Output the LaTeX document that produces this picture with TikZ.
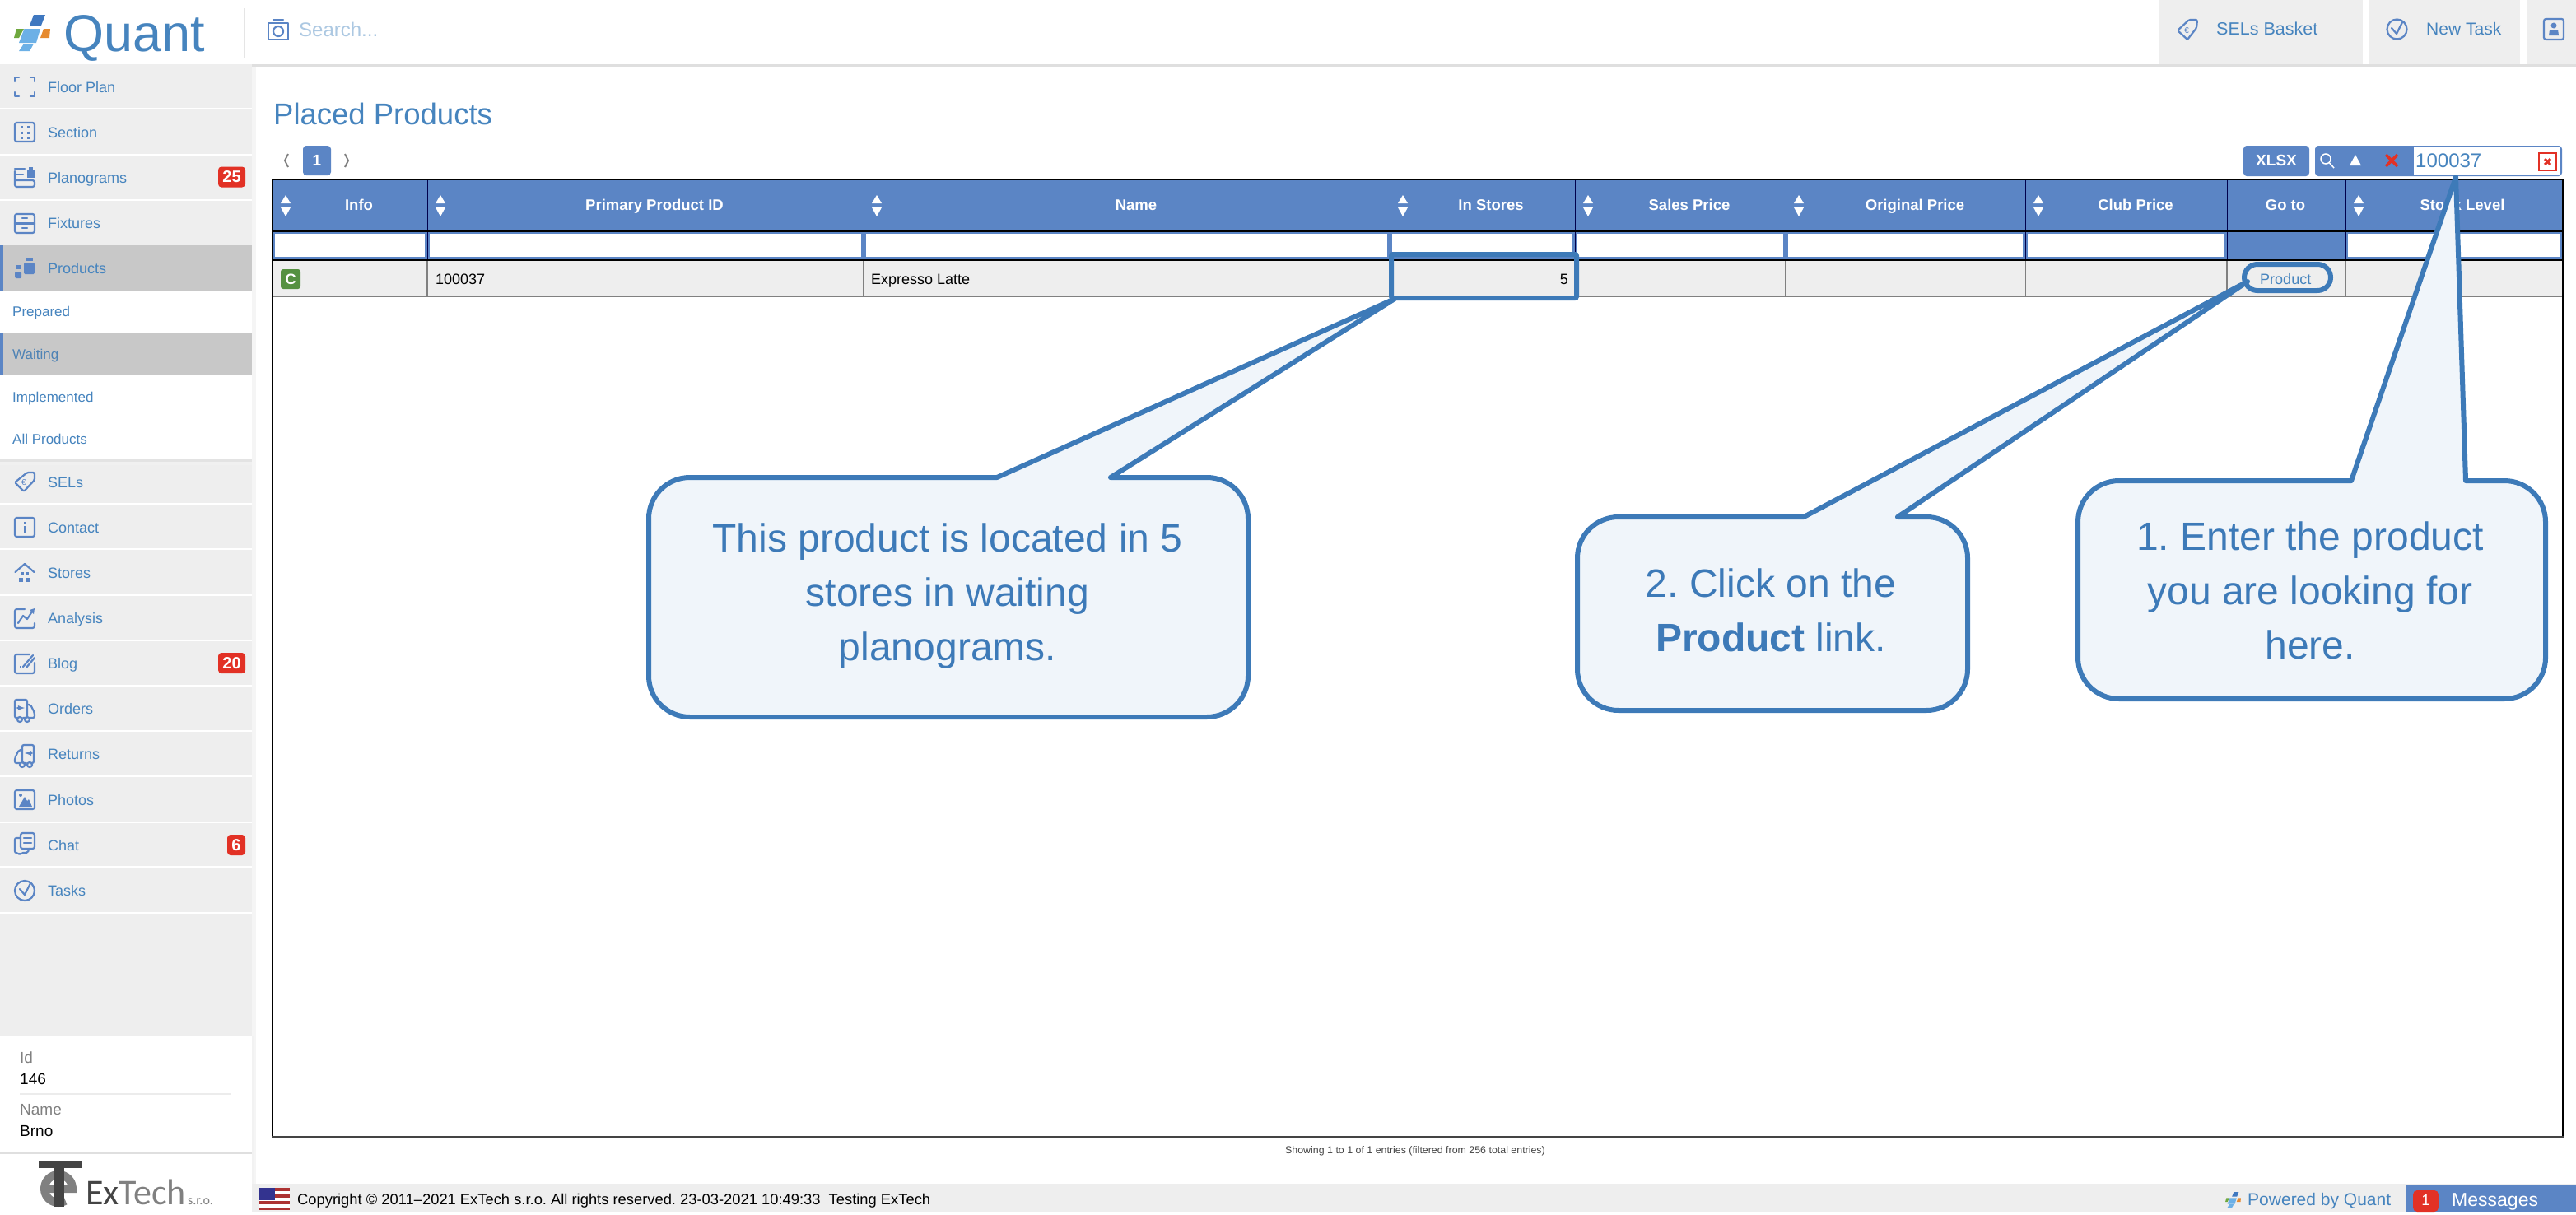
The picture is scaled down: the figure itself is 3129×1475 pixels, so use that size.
\documentclass[tikz,border=0pt]{standalone}
\usepackage{fontspec}
\setmainfont{Liberation Sans}
\newfontfamily\carlitofont{Carlito}
\usetikzlibrary{positioning}
\AtBeginDocument{\frenchspacing}
\definecolor{headblue}{RGB}{91,133,197}
\definecolor{linkblue}{RGB}{70,132,190}
\definecolor{noteblue}{RGB}{61,122,184}
\definecolor{notefill}{RGB}{240,245,250}
\definecolor{panelgrey}{RGB}{238,238,238}
\definecolor{activegrey}{RGB}{200,200,200}
\definecolor{badgered}{RGB}{226,49,37}
\definecolor{darkgrey}{RGB}{68,68,68}
\definecolor{logoblue}{RGB}{63,120,192}
\definecolor{logosky}{RGB}{108,176,230}
\definecolor{logogreen}{RGB}{111,168,62}
\definecolor{logoorange}{RGB}{230,138,46}
\tikzset{
  navlabel/.style={anchor=west,inner sep=0pt,text=linkblue,text height=13pt,text depth=0pt,font=\fontsize{18}{22}\selectfont},
  sublabel/.style={anchor=west,inner sep=0pt,text=linkblue,text height=12.3pt,text depth=0pt,font=\fontsize{17}{21}\selectfont},
  icon/.style={draw=headblue,line width=2.2pt,line cap=round,line join=round},
  badge/.style={fill=badgered,rounded corners=4pt,text=white,inner sep=0pt,minimum height=25pt,font=\bfseries\fontsize{20}{24}\selectfont},
  headcell/.style={text=white,inner sep=0pt,text height=13.3pt,text depth=0pt,font=\bfseries\fontsize{18.5}{22}\selectfont},
  datacell/.style={anchor=west,inner sep=0pt,text height=13pt,text depth=0pt,font=\fontsize{18}{22}\selectfont},
  infolabel/.style={anchor=west,inner sep=0pt,text=gray,text height=13.7pt,text depth=0pt,font=\fontsize{19}{23}\selectfont},
  infovalue/.style={anchor=west,inner sep=0pt,text height=13.7pt,text depth=0pt,font=\fontsize{19}{23}\selectfont},
  calloutbox/.style={draw=noteblue,fill=notefill,line width=6pt,line join=round},
  callouttext/.style={align=center,inner sep=0pt,text=noteblue,font=\fontsize{48}{66}\selectfont},
  markbox/.style={draw=noteblue,line width=6pt},
  sortarrows/.pic={
    \fill[white] (-6,-2) -- (6,-2) -- (0,-12) -- cycle;
    \fill[white] (-6,3) -- (6,3) -- (0,14) -- cycle;
  },
  quantlogo/.pic={
    \fill[logoblue] (24,0) -- (38,0) -- (33,13) -- (19,13) -- cycle;
    \fill[logogreen] (3,17) -- (12,17) -- (6,28) -- (0,28) -- cycle;
    \fill[logosky] (12.5,17) -- (32,17) -- (27,34) -- (6,34) -- cycle;
    \fill[logoorange] (36,17) -- (44,17) -- (43,28) -- (32,28) -- cycle;
    \fill[logosky] (12,35) -- (24,35) -- (19,44) -- (6,44) -- cycle;
  }
}
\begin{document}
\begin{tikzpicture}[x=1pt,y=-1pt]
	\useasboundingbox (0,0) rectangle (3129,1475);
	\fill[white] (0,0) rectangle (3129,1475);
	% top bar
	\fill[gray!25] (0,78) rectangle (3129,81);
	\fill[gray!10] (0,81) rectangle (3129,82);
	\draw[gray!20,line width=1.5pt] (297,10) -- (297,70);
	\pic at (17,18) {quantlogo};
	\node[anchor=base west,inner sep=0pt,text=linkblue,font=\fontsize{63}{70}\selectfont] (brand) at (77,62) {Quant};
	\draw[icon] (326,28) rectangle (350,48);
	\draw[icon] (332,24) -- (344,24);
	\draw[icon] (338,38) circle (6);
	\node[anchor=base west,inner sep=0pt,text=linkblue!45,font=\fontsize{24}{28}\selectfont] (searchhint) at (363,44) {Search...};
	\fill[panelgrey] (2623,0) rectangle (2870,78);
	\fill[panelgrey] (2877,0) rectangle (3061,78);
	\fill[panelgrey] (3069,0) rectangle (3129,78);
	\draw[icon,rounded corners=1.5pt] (2659,24) -- (2669,24) -- (2668,34) -- (2657,48) -- (2645,37) -- cycle;
	\node[inner sep=0pt,text=headblue,font=\fontsize{10}{10}\selectfont] (euroa) at (2656,37) {€};
	\node[anchor=west,inner sep=0pt,text=linkblue,text height=15.5pt,text depth=0pt,font=\fontsize{21.5}{26}\selectfont] (basket) at (2692,35) {SELs Basket};
	\draw[icon] (2911.5,35.5) circle (12);
	\draw[icon] (2905,34) -- (2911,41) -- (2918,27);
	\node[anchor=west,inner sep=0pt,text=linkblue,text height=15pt,text depth=0pt,font=\fontsize{21}{26}\selectfont] (newtask) at (2947,35) {New Task};
	\draw[icon,rounded corners=2.5pt] (3090,23) rectangle (3114,48);
	\fill[headblue] (3102,31) circle (3.5);
	\fill[headblue] (3096,43) -- (3097,36) -- (3107,36) -- (3108,43) -- cycle;
	% side menu
	\fill[gray!8] (306,82) rectangle (311,1438);
	\fill[panelgrey] (0,78) rectangle (306,1259);
	\draw[white,line width=2pt] (0,132) -- (306,132);
	\draw[white,line width=2pt] (0,187.5) -- (306,187.5);
	\draw[white,line width=2pt] (0,243) -- (306,243);
	\fill[activegrey] (0,298) rectangle (306,354);
	\fill[headblue] (0,298) rectangle (4,354);
	\fill[gray!22] (0,558) rectangle (306,561);
	\fill[gray!12] (0,561) rectangle (306,565);
	\fill[white] (0,354) rectangle (306,558);
	\fill[activegrey] (0,405) rectangle (306,456);
	\fill[headblue] (0,405) rectangle (4,456);
	\draw[white,line width=2pt] (0,612) -- (306,612);
	\draw[white,line width=2pt] (0,667) -- (306,667);
	\draw[white,line width=2pt] (0,723) -- (306,723);
	\draw[white,line width=2pt] (0,778) -- (306,778);
	\draw[white,line width=2pt] (0,833) -- (306,833);
	\draw[white,line width=2pt] (0,888) -- (306,888);
	\draw[white,line width=2pt] (0,943) -- (306,943);
	\draw[white,line width=2pt] (0,999) -- (306,999);
	\draw[white,line width=2pt] (0,1053) -- (306,1053);
	\draw[white,line width=2pt] (0,1108.5) -- (306,1108.5);
	\node[navlabel] (floorplan) at (58,105.5) {Floor Plan};
	\node[navlabel] (section) at (58,160.5) {Section};
	\node[navlabel] (planograms) at (58,216) {Planograms};
	\node[navlabel] (fixtures) at (58,271) {Fixtures};
	\node[navlabel] (products) at (58,326) {Products};
	\node[sublabel] (prepared) at (15,378.5) {Prepared};
	\node[sublabel,text=linkblue!85!gray] (waiting) at (15,430) {Waiting};
	\node[sublabel] (implemented) at (15,482) {Implemented};
	\node[sublabel] (allproducts) at (15,533) {All Products};
	\node[navlabel] (sels) at (58,586) {SELs};
	\node[navlabel] (contact) at (58,641) {Contact};
	\node[navlabel] (stores) at (58,696) {Stores};
	\node[navlabel] (analysis) at (58,751) {Analysis};
	\node[navlabel] (blog) at (58,806) {Blog};
	\node[navlabel] (orders) at (58,861) {Orders};
	\node[navlabel] (returns) at (58,916) {Returns};
	\node[navlabel] (photos) at (58,971.5) {Photos};
	\node[navlabel] (chat) at (58,1026.5) {Chat};
	\node[navlabel] (tasks) at (58,1081.5) {Tasks};
	\node[badge,minimum width=33pt] (badgeplan) at (281.5,215) {25};
	\node[badge,minimum width=33pt] (badgeblog) at (281.5,805.5) {20};
	\node[badge,minimum width=22pt] (badgechat) at (287,1026.5) {6};
	% menu icons
	\draw[icon] (18,99) -- (18,94) -- (23,94);
	\draw[icon] (37,94) -- (42,94) -- (42,99);
	\draw[icon] (18,112) -- (18,117) -- (23,117);
	\draw[icon] (37,117) -- (42,117) -- (42,112);
	\draw[icon,rounded corners=2.5pt] (18,149) rectangle (42,172);
	\draw[icon,line width=3pt,line cap=butt,dash pattern=on 3pt off 3.5pt] (26,153) -- (26,170);
	\draw[icon,line width=3pt,line cap=butt,dash pattern=on 3pt off 3.5pt] (34,153) -- (34,170);
	\draw[icon,rounded corners=2.5pt] (18,208) -- (18,227) -- (42,227) -- (42,219) -- (18,219);
	\draw[icon] (18,205) -- (30,205);
	\draw[icon] (18,212) -- (28,212);
	\fill[headblue] (33,207) rectangle (42,216);
	\fill[headblue] (35,203) rectangle (40,205.5);
	\draw[icon,rounded corners=2.5pt] (18,260) rectangle (42,283);
	\draw[icon] (18,271.5) -- (42,271.5);
	\draw[icon] (27,265) -- (33,265);
	\draw[icon] (27,277) -- (33,277);
	\fill[headblue,rounded corners=1.5pt] (29,319) rectangle (42,333);
	\fill[headblue] (31,314) rectangle (40,317);
	\fill[headblue,rounded corners=1.5pt] (18,330) rectangle (26,338);
	\fill[headblue] (19,322) rectangle (25,327);
	\draw[icon,rounded corners=1.5pt] (33,574) -- (42,574) -- (42,583) -- (29,597) -- (18,586) -- cycle;
	\node[inner sep=0pt,text=headblue,font=\fontsize{10}{10}\selectfont] (eurob) at (29,586) {€};
	\draw[icon,rounded corners=2.5pt] (18,629) rectangle (42,652);
	\fill[headblue] (28.5,634) rectangle (31.5,637);
	\fill[headblue] (28.5,639) rectangle (31.5,647);
	\draw[icon] (18.5,695) -- (30,685) -- (41.5,695);
	\fill[headblue] (25,695) rectangle (29,699);
	\fill[headblue] (31,695) rectangle (35,699);
	\fill[headblue] (23,702) rectangle (28,707);
	\fill[headblue] (32,702) rectangle (37,707);
	\draw[icon,rounded corners=2.5pt] (30,740) -- (18,740) -- (18,763) -- (42,763) -- (42,757);
	\draw[icon] (22,757) -- (28,748) -- (33,752) -- (39,743);
	\fill[headblue] (36,741) -- (42,739) -- (41,746) -- cycle;
	\draw[icon,rounded corners=2.5pt] (36,795) -- (18,795) -- (18,818) -- (42,818) -- (42,805);
	\draw[icon] (28,810) -- (40,796);
	\draw[icon] (32,811) -- (42,799);
	\fill[headblue] (24,809) rectangle (26,811);
	\draw[icon,rounded corners=2pt] (22,872) -- (18,872) -- (18,850) -- (33,850) -- (33,872) -- (28,872);
	\draw[icon,rounded corners=2pt] (33,856) -- (37,856) -- (42,866) -- (42,872) -- (36,872);
	\draw[icon] (24,874) circle (3);
	\draw[icon] (33,874) circle (3);
	\draw[icon,line width=1.8pt,-latex] (21,860) -- (30,860);
	\draw[icon,rounded corners=2pt] (37,927) -- (41,927) -- (41,905) -- (27,905) -- (27,927) -- (32,927);
	\draw[icon,rounded corners=2pt] (27,911) -- (23,911) -- (18,921) -- (18,927) -- (24,927);
	\draw[icon] (27,929) circle (3);
	\draw[icon] (36,929) circle (3);
	\draw[icon,line width=1.8pt,-latex] (39,915) -- (30,915);
	\draw[icon,rounded corners=2.5pt] (18,960) rectangle (42,983);
	\fill[headblue] (23,980) -- (30,968) -- (33,973) -- (35,971) -- (39,980) -- cycle;
	\fill[headblue] (25,966) circle (2);
	\draw[icon,rounded corners=2.5pt] (25,1012) rectangle (42,1031);
	\draw[icon] (29,1018) -- (38,1018);
	\draw[icon] (29,1024) -- (38,1024);
	\draw[icon,rounded corners=2pt] (25,1018) -- (18,1018) -- (18,1036) -- (22,1036) -- (24,1038.5) -- (26,1036) -- (34,1036) -- (35,1031);
	\draw[icon] (30,1082) circle (12);
	\draw[icon] (24,1080) -- (30,1087) -- (37,1073);
	% site panel
	\fill[white] (0,1259) rectangle (306,1475);
	\fill[gray!10] (306,1259) rectangle (309,1438);
	\node[infolabel] (idlabel) at (24,1285) {Id};
	\node[infovalue] (idvalue) at (24,1311) {146};
	\draw[gray!15,line width=1.5pt] (24,1329) -- (281,1329);
	\node[infolabel] (namelabel) at (24,1348) {Name};
	\node[infovalue] (namevalue) at (24,1374) {Brno};
	\fill[gray!25] (0,1399.5) rectangle (306,1401.5);
	% extech logo
	\draw[gray,line width=10pt] (54,1444) -- (88,1444) arc (0:-300:17 and 17);
	\fill[darkgrey] (66,1416) rectangle (78,1466);
	\fill[darkgrey] (47,1411) rectangle (99,1419);
	\node[anchor=base west,inner sep=0pt,text=darkgrey,font=\carlitofont\fontsize{44}{48}\selectfont] (extech) at (104,1463) {Ex\textcolor{gray}{Tech}};
	\node[anchor=base west,inner sep=0pt,text=gray,font=\carlitofont\fontsize{16}{20}\selectfont] (sro) at (228,1463) {s.r.o.};
	% footer
	\fill[panelgrey] (306,1438) rectangle (3129,1472);
	\fill[white] (315,1443) rectangle (352,1470);
	\fill[red!60!black!80] (315,1443) rectangle (352,1447);
	\fill[red!60!black!80] (315,1451) rectangle (352,1455);
	\fill[red!60!black!80] (315,1459) rectangle (352,1463);
	\fill[red!60!black!80] (315,1466.5) rectangle (352,1470);
	\fill[blue!45!black!80] (315,1443) rectangle (334,1458);
	\node[anchor=west,inner sep=0pt,text height=13.2pt,text depth=0pt,font=\fontsize{18.35}{22}\selectfont] (copyright) at (361,1457) {Copyright © 2011–2021 ExTech s.r.o. All rights reserved. 23-03-2021 10:49:33\ \ Testing ExTech};
	\node[anchor=west,inner sep=0pt,text=linkblue,text height=15pt,text depth=0pt,font=\fontsize{21}{25}\selectfont] (powered) at (2730,1457) {Powered by Quant};
	\pic[scale=0.43] at (2703,1448) {quantlogo};
	\fill[headblue] (2922,1440) rectangle (3129,1472);
	\fill[badgered,rounded corners=5pt] (2931,1446) rectangle (2962,1472);
	\node[text=white,inner sep=0pt,font=\fontsize{19}{23}\selectfont] (msgcount) at (2946.5,1458) {1};
	\node[anchor=west,inner sep=0pt,text=white,text height=16pt,text depth=0pt,font=\fontsize{23}{26}\selectfont] (messages) at (2978,1457) {Messages};
	% title and pager
	\node[anchor=west,inner sep=0pt,text=linkblue,text height=26pt,text depth=0pt,font=\fontsize{36.5}{42}\selectfont] (title) at (332,138) {Placed Products};
	\draw[gray,line width=2pt] (350,187) -- (346,195) -- (350,203);
	\fill[headblue,rounded corners=4pt] (368,177) rectangle (402,213);
	\node[text=white,inner sep=0pt,font=\bfseries\fontsize{19}{23}\selectfont] (pageone) at (385,195) {1};
	\draw[gray,line width=2pt] (419,187) -- (423,195) -- (419,203);
	% toolbar
	\fill[headblue,rounded corners=4pt] (2725,177) rectangle (2805,214);
	\node[text=white,inner sep=0pt,font=\bfseries\fontsize{19}{23}\selectfont] (xlsx) at (2765,195) {XLSX};
	\fill[headblue,rounded corners=4pt] (2812,177) rectangle (3112,214);
	\fill[white] (2932,179) rectangle (3110,212);
	\draw[white,line width=1.5pt] (2825,193) circle (6);
	\draw[white,line width=1.5pt] (2829.5,198) -- (2835,204);
	\fill[white] (2854,201) -- (2868,201) -- (2861,188) -- cycle;
	\draw[badgered,line width=3.5pt] (2898,188) -- (2912,202);
	\draw[badgered,line width=3.5pt] (2912,188) -- (2898,202);
	\node[anchor=west,inner sep=0pt,text=linkblue,font=\fontsize{24}{28}\selectfont] (searchvalue) at (2934,195) {100037};
	\draw[badgered,line width=1.5pt] (3084,186) rectangle (3105,207);
	\draw[badgered,line width=3pt] (3091,193) -- (3098,200);
	\draw[badgered,line width=3pt] (3098,193) -- (3091,200);
	% table
	\fill[headblue] (331,218) rectangle (3113,316);
	\fill[white] (334,284) rectangle (516,312);
	\fill[white] (522,284) rectangle (1046,312);
	\fill[white] (1052,284) rectangle (1685,312);
	\fill[white] (1691,284) rectangle (1910,312);
	\fill[white] (1916,284) rectangle (2166,312);
	\fill[white] (2172,284) rectangle (2457,312);
	\fill[white] (2463,284) rectangle (2702,312);
	\fill[white] (2852,284) rectangle (3110,312);
	\fill[panelgrey] (331,316) rectangle (3113,360);
	\draw[black!70!blue,line width=1pt] (519,218) -- (519,316);
	\draw[black!70!blue,line width=1pt] (1049,218) -- (1049,316);
	\draw[black!70!blue,line width=1pt] (1688,218) -- (1688,316);
	\draw[black!70!blue,line width=1pt] (1913,218) -- (1913,316);
	\draw[black!70!blue,line width=1pt] (2169,218) -- (2169,316);
	\draw[black!70!blue,line width=1pt] (2460.5,218) -- (2460.5,316);
	\draw[black!70!blue,line width=1pt] (2705,218) -- (2705,316);
	\draw[black!70!blue,line width=1pt] (2849,218) -- (2849,316);
	\draw[gray,line width=1.5pt] (519,316) -- (519,360);
	\draw[gray,line width=1.5pt] (1049,316) -- (1049,360);
	\draw[gray,line width=1.5pt] (1688,316) -- (1688,360);
	\draw[gray,line width=1.5pt] (1913,316) -- (1913,360);
	\draw[gray,line width=1.5pt] (2169,316) -- (2169,360);
	\draw[gray,line width=1.5pt] (2460.5,316) -- (2460.5,360);
	\draw[gray,line width=1.5pt] (2705,316) -- (2705,360);
	\draw[gray,line width=1.5pt] (2849,316) -- (2849,360);
	\draw[black,line width=2.5pt] (331,281) -- (3113,281);
	\draw[black,line width=2.5pt] (331,316) -- (3113,316);
	\draw[gray,line width=2pt] (331,360) -- (3113,360);
	\draw[black,line width=2pt] (331,1381) -- (331,218) -- (3113,218) -- (3113,1381);
	\draw[darkgrey,line width=3pt] (330,1381) -- (3114,1381);
	\pic at (347,249) {sortarrows};
	\pic at (535,249) {sortarrows};
	\pic at (1065,249) {sortarrows};
	\pic at (1704,249) {sortarrows};
	\pic at (1929,249) {sortarrows};
	\pic at (2185,249) {sortarrows};
	\pic at (2476,249) {sortarrows};
	\pic at (2865,249) {sortarrows};
	\node[headcell] (headinfo) at (436,249) {Info};
	\node[headcell] (headid) at (795,249) {Primary Product ID};
	\node[headcell] (headname) at (1380,249) {Name};
	\node[headcell] (headstores) at (1811,249) {In Stores};
	\node[headcell] (headsales) at (2052,249) {Sales Price};
	\node[headcell] (headoriginal) at (2326,249) {Original Price};
	\node[headcell] (headclub) at (2594,249) {Club Price};
	\node[headcell] (headgoto) at (2776,249) {Go to};
	\node[headcell] (headstock) at (2991,249) {Stock Level};
	\node[fill={rgb,255:red,85;green,145;blue,65},rounded corners=3pt,minimum width=24pt,minimum height=24pt,inner sep=0pt,text=white,font=\bfseries\fontsize{18}{22}\selectfont] (typebadge) at (353,339) {C};
	\node[datacell] (cellid) at (529,338.5) {100037};
	\node[datacell] (cellname) at (1058,338.5) {Expresso Latte};
	\node[datacell,anchor=east] (cellstores) at (1905,338.5) {5};
	\node[datacell,text=linkblue] (cellgoto) at (2745,338.5) {Product};
	\node[inner sep=0pt,text=darkgrey,text height=9pt,text depth=0pt,font=\fontsize{12.4}{15}\selectfont] (entries) at (1719,1397) {Showing 1 to 1 of 1 entries (filtered from 256 total entries)};
	% highlights
	\draw[markbox,rounded corners=2pt] (1690,309) rectangle (1915,362);
	\draw[markbox,rounded corners=16pt] (2726,321) rectangle (2831,353);
	% callouts
	\draw[calloutbox] (1694,363) -- (1349,580) [rounded corners=50pt] -- (1516,580) -- (1516,871) -- (788,871) -- (788,580) [sharp corners] -- (1211,580) -- cycle;
	\node[callouttext] (notestores) at (1151,724) {This product is located in 5\\stores in waiting\\planograms.};
	\draw[calloutbox] (2730,342) -- (2305,628) [rounded corners=50pt] -- (2390,628) -- (2390,863) -- (1916,863) -- (1916,628) [sharp corners] -- (2191,628) -- cycle;
	\node[callouttext] (notelink) at (2151,741) {2. Click on the\\\textbf{Product} link.};
	\draw[calloutbox] (2983,215) -- (2995,584) [rounded corners=50pt] -- (3092,584) -- (3092,849) -- (2524,849) -- (2524,584) [sharp corners] -- (2856,584) -- cycle;
	\node[callouttext] (noteenter) at (2806,717) {1. Enter the product\\you are looking for\\here.};
\end{tikzpicture}
\end{document}
